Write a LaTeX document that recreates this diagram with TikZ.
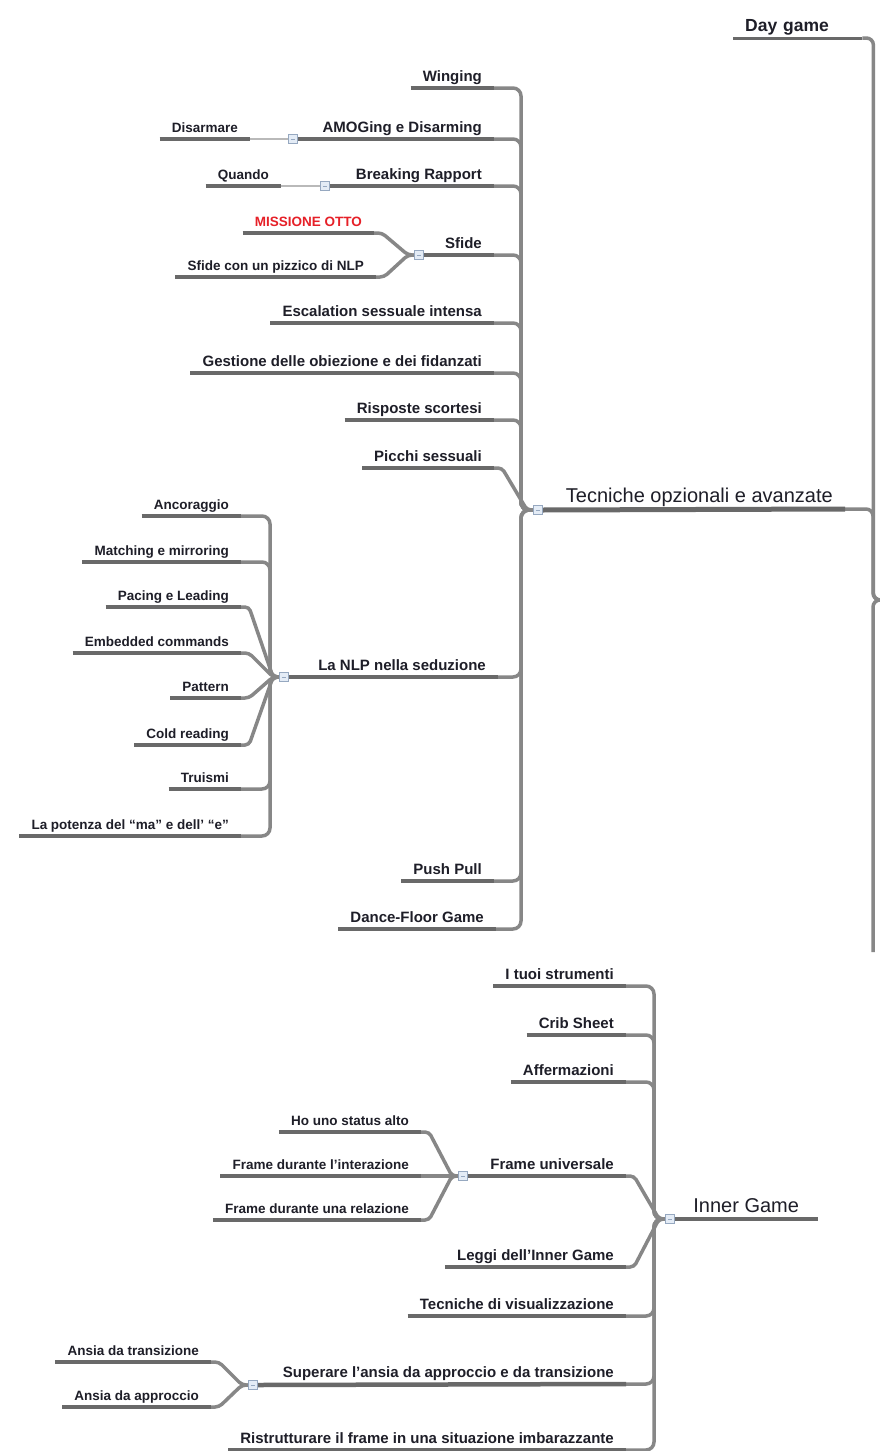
\documentclass[tikz,border=0pt]{standalone}
\usepackage{fontspec}
\setmainfont{Liberation Sans}
\usepackage{tikz}

\definecolor{inkcol}{RGB}{30,30,40}
\definecolor{linecol}{RGB}{105,105,105}
\definecolor{edgecol}{RGB}{135,135,135}
\definecolor{faintcol}{RGB}{185,185,185}
\definecolor{alertcol}{RGB}{230,32,40}
\definecolor{boxfill}{RGB}{228,236,246}
\definecolor{boxline}{RGB}{150,168,192}

\begin{document}
\begin{tikzpicture}[
    x=1pt, y=-1pt,
    topic/.style={anchor=south east, inner xsep=12pt, inner ysep=2.5pt, text depth=4pt,
      text=inkcol, font={\fontsize{15}{18}\selectfont\bfseries}},
    subtopic/.style={topic, font={\fontsize{13.5}{16}\selectfont\bfseries}},
    main topic/.style={topic, font={\fontsize{20}{24}\selectfont}},
    uline/.style={line width=4.5pt, draw=linecol},
    link/.style={line width=3.5pt, draw=edgecol, rounded corners=8pt},
    faint link/.style={line width=2pt, draw=faintcol},
    expander/.style={anchor=west, draw=boxline, fill=boxfill, line width=0.6pt,
      minimum size=9pt, inner sep=0pt,
      path picture={\draw[boxline, line width=0.8pt]
        ([xshift=-2pt]path picture bounding box.center) --
        ([xshift=2pt]path picture bounding box.center);}}
  ]
  \useasboundingbox (0,0) rectangle (879,1451);
  \fill[white] (0,0) rectangle (879,1451);

  % hubs where the branches meet
  \coordinate (root) at (882,600);
  \coordinate (more) at (873,952);
  \coordinate (tech) at (533,510);
  \coordinate (amoh) at (288,139);
  \coordinate (brkh) at (320,186);
  \coordinate (sfih) at (414,255);
  \coordinate (nlph) at (279,677);
  \coordinate (innh) at (665,1219);
  \coordinate (fruh) at (458,1176);
  \coordinate (suph) at (248,1385);

  % top level
  \node[topic, anchor=south west, text width=105pt, align=left,
    font={\fontsize{17.5}{20}\selectfont\bfseries}] (day) at (733,38) {Day game};
  \node[main topic] (tec) at (845,509) {Tecniche opzionali e avanzate};

  % Tecniche opzionali e avanzate
  \node[topic] (win) at (494,88) {Winging};
  \node[topic] (amo) at (494,139) {AMOGing e Disarming};
  \node[topic] (brk) at (494,186) {Breaking Rapport};
  \node[topic] (sfi) at (494,255) {Sfide};
  \node[topic] (esc) at (494,323) {Escalation sessuale intensa};
  \node[topic] (ges) at (494,373) {Gestione delle obiezione e dei fidanzati};
  \node[topic] (ris) at (494,420) {Risposte scortesi};
  \node[topic] (pic) at (494,468) {Picchi sessuali};
  \node[topic] (nlp) at (498,677) {La NLP nella seduzione};
  \node[topic] (psh) at (494,881) {Push Pull};
  \node[topic] (dfg) at (496,929) {Dance-Floor Game};

  \node[subtopic] (dis) at (250,139) {Disarmare};
  \node[subtopic] (qua) at (281,186) {Quando};
  \node[subtopic, text=alertcol] (mis) at (374,233) {MISSIONE OTTO};
  \node[subtopic] (sfc) at (376,277) {Sfide con un pizzico di NLP};

  \node[subtopic] (anc) at (241,516) {Ancoraggio};
  \node[subtopic] (mat) at (241,562) {Matching e mirroring};
  \node[subtopic] (pac) at (241,607) {Pacing e Leading};
  \node[subtopic] (emb) at (241,653) {Embedded commands};
  \node[subtopic] (pat) at (241,698) {Pattern};
  \node[subtopic] (col) at (241,745) {Cold reading};
  \node[subtopic] (tru) at (241,789) {Truismi};
  \node[subtopic] (pot) at (241,836) {La potenza del “ma” e dell’ “e”};

  % Inner Game
  \node[main topic, anchor=south west, minimum width=144pt] (inn) at (674,1219) {Inner Game};
  \node[topic] (tuo) at (626,986) {I tuoi strumenti};
  \node[topic] (cri) at (626,1035) {Crib Sheet};
  \node[topic] (aff) at (626,1082) {Affermazioni};
  \node[topic] (fru) at (626,1176) {Frame universale};
  \node[topic] (leg) at (626,1267) {Leggi dell'Inner Game};
  \node[topic] (tvi) at (626,1316) {Tecniche di visualizzazione};
  \node[topic] (sup) at (626,1384) {Superare l'ansia da approccio e da transizione};
  \node[topic] (rst) at (626,1450) {Ristrutturare il frame in una situazione imbarazzante};

  \node[subtopic] (hoa) at (421,1132) {Ho uno status alto};
  \node[subtopic] (fdi) at (421,1176) {Frame durante l'interazione};
  \node[subtopic] (fdr) at (421,1220) {Frame durante una relazione};
  \node[subtopic] (adt) at (211,1362) {Ansia da transizione};
  \node[subtopic] (ada) at (211,1407) {Ansia da approccio};

  % branches
  \draw[link, rounded corners=7pt] (day.south east) -- ++(11,0) |- (root);
  \draw[link, rounded corners=7pt] (tec.south east) -- ++(28,0) |- (root);
  \draw[link, rounded corners=7pt] (root) -| (more);
  \foreach \c in {win, amo, brk, sfi, esc, ges, ris, nlp, psh, dfg}
    \draw[link] (tech) -- ++(-12,0) |- (\c.south east);
  \foreach \c in {anc, mat, tru, pot}
    \draw[link] (nlph) -- ++(-9,0) |- (\c.south east);
  \foreach \c in {tuo, cri, aff, tvi, sup, rst}
    \draw[link] (innh) -- ++(-11,0) |- (\c.south east);
  \foreach \c/\h in {pic/tech, mis/sfih, sfc/sfih, pac/nlph, emb/nlph, pat/nlph, col/nlph,
      fru/innh, leg/innh, hoa/fruh, fdi/fruh, fdr/fruh, adt/suph, ada/suph}
    \draw[link, rounded corners=4pt] (\c.south east) -- ++(8,0) -- ([xshift=-6pt]\h) -- (\h);
  \draw[faint link] (amoh) -- (dis.south east);
  \draw[faint link] (brkh) -- (qua.south east);

  % underlines
  \foreach \n in {win, esc, ges, ris, pic, psh, dfg, dis, qua, mis, sfc, anc, mat, pac,
      emb, pat, col, tru, pot, tuo, cri, aff, leg, tvi, rst, hoa, fdi, fdr, adt, ada}
    \draw[uline] (\n.south west) -- (\n.south east);
  \draw[uline, line width=3pt] (day.south west) -- (day.south east);
  \draw[uline, line width=5pt] ([xshift=9pt]tech) -- (tec.south east);
  \draw[uline] ([xshift=9pt]innh) -- (inn.south east);
  \foreach \n/\h in {amo/amoh, brk/brkh, sfi/sfih, nlp/nlph, fru/fruh, sup/suph}
    \draw[uline] ([xshift=9pt]\h) -- (\n.south east);

  % expand boxes
  \foreach \h in {tech, amoh, brkh, sfih, nlph, innh, fruh, suph}
    \node[expander] (\h-box) at (\h) {};
\end{tikzpicture}
\end{document}
